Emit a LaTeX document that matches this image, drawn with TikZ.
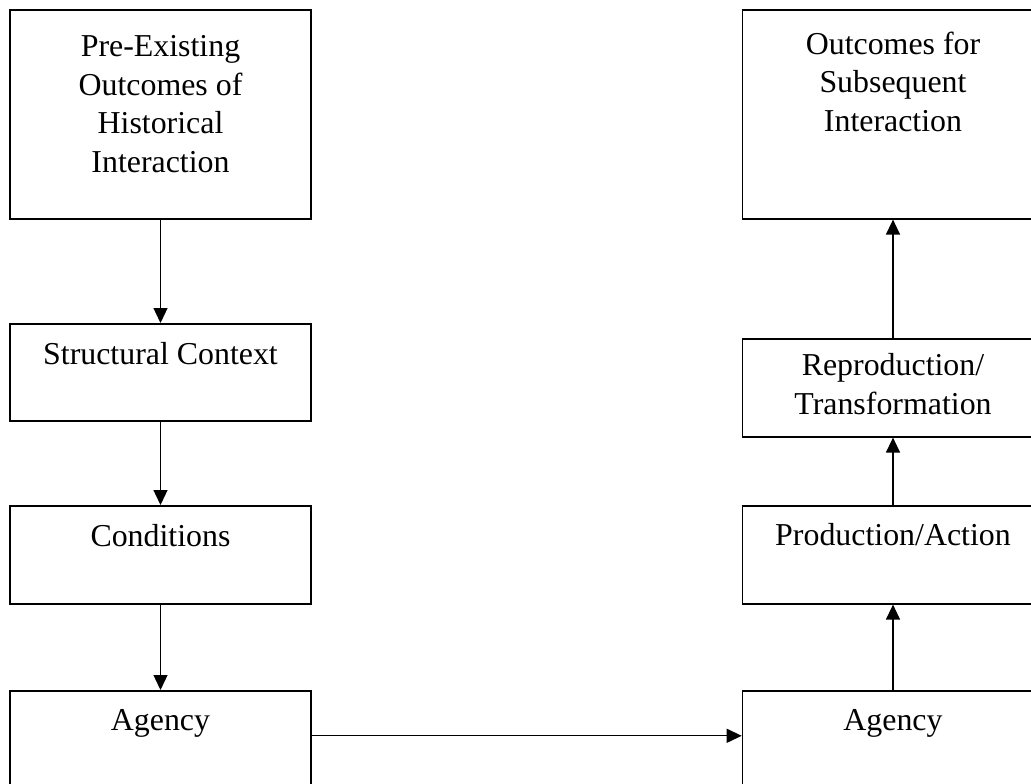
\documentclass[tikz,border=0pt]{standalone}
\usepackage{fontspec}
\setmainfont{Liberation Serif}
\usetikzlibrary{arrows.meta}
\tikzset{
  stage/.style={draw=black,rectangle,line width=1.6bp,inner xsep=0bp,inner ysep=0bp,
    minimum width=301bp,align=center,anchor=north,
    font=\fontsize{32}{39}\selectfont},
}
\begin{document}
\begin{tikzpicture}[x=1bp,y=-1bp,>={Triangle[length=15bp,width=14bp]},line width=1.3bp]
    \useasboundingbox (0,0) rectangle (1031,784);
    %%
    \node (pre) at (160.5,9) [stage,text height=163bp,text depth=46bp] {Pre-Existing\\Outcomes of\\Historical\\Interaction};
    \node (struct) at (160.5,323) [stage,text height=41bp,text depth=56bp] {Structural Context};
    \node (cond) at (160.5,505) [stage,text height=41bp,text depth=57bp] {Conditions};
    \node (agl) at (160.5,690) [stage,text height=40bp,text depth=70bp] {Agency};
    \node (agr) at (893,690) [stage,text height=40bp,text depth=70bp] {Agency};
    \node (prod) at (893,505) [stage,text height=40bp,text depth=58bp] {Production/Action};
    \node (repro) at (893,338) [stage,text height=76bp,text depth=22bp] {Reproduction/\\Transformation};
    \node (out) at (893,9) [stage,text height=122bp,text depth=87bp] {Outcomes for\\Subsequent\\Interaction};
    \draw [->] (pre) -- (struct);
    \draw [->] (struct) -- (cond);
    \draw [->] (cond) -- (agl);
    \draw [->] ([yshift=10bp]agl.east) -- ([yshift=10bp]agr.west);
    \draw [->] (agr) -- (prod);
    \draw [->] (prod) -- (repro);
    \draw [->] (repro) -- (out);
    %
\end{tikzpicture}
\end{document}
